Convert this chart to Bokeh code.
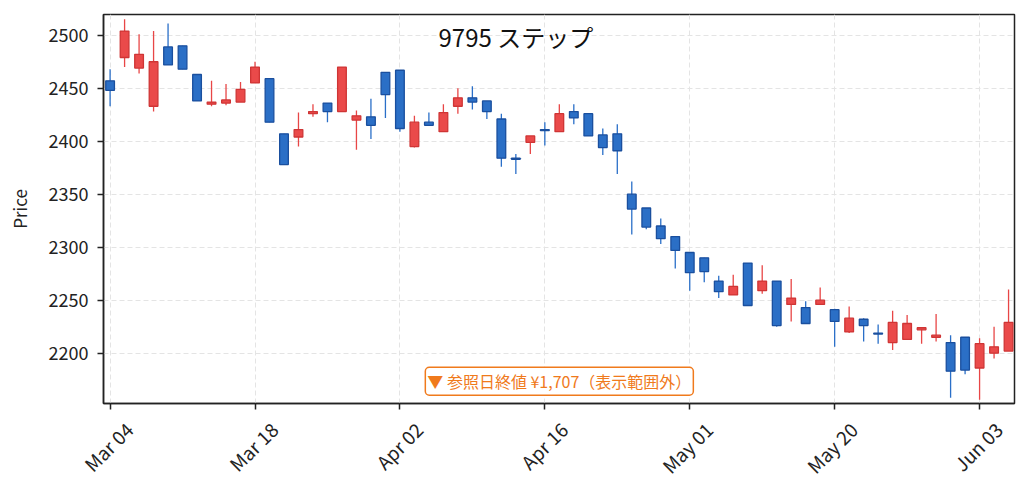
import math
from bokeh.plotting import figure
from bokeh.models import (ColumnDataSource, Range1d, FixedTicker, Label, LinearAxis,
                          CustomJSTickFormatter)
from bokeh.embed import file_html
from bokeh.resources import INLINE

# ---------------- data ----------------
dates = ["Mar 04", "Mar 05", "Mar 06", "Mar 07", "Mar 08", "Mar 11", "Mar 12", "Mar 13",
         "Mar 14", "Mar 15", "Mar 18", "Mar 19", "Mar 21", "Mar 22", "Mar 25", "Mar 26",
         "Mar 27", "Mar 28", "Mar 29", "Apr 01", "Apr 02", "Apr 03", "Apr 04", "Apr 05",
         "Apr 08", "Apr 09", "Apr 10", "Apr 11", "Apr 12", "Apr 15", "Apr 16", "Apr 17",
         "Apr 18", "Apr 19", "Apr 22", "Apr 23", "Apr 24", "Apr 25", "Apr 26", "Apr 30",
         "May 01", "May 02", "May 07", "May 08", "May 09", "May 10", "May 13", "May 14",
         "May 15", "May 16", "May 20", "May 21", "May 22", "May 23", "May 24", "May 27",
         "May 28", "May 29", "May 30", "May 31", "Jun 03", "Jun 04", "Jun 05"]

opens = [2457, 2479, 2469, 2433, 2489, 2490, 2463, 2435, 2436, 2437,
         2455, 2459, 2407, 2404, 2426, 2436, 2428, 2420, 2423, 2465,
         2467, 2395, 2418, 2409, 2433, 2441, 2438, 2421, 2384, 2399,
         2411, 2409, 2428, 2426, 2406, 2407, 2350, 2337, 2320, 2310,
         2295, 2290, 2268, 2255, 2285, 2259, 2268, 2246, 2243, 2246,
         2241, 2220, 2232, 2219, 2210, 2213, 2222, 2215, 2210, 2215,
         2186, 2200, 2202]
highs = [2468, 2515, 2501, 2504, 2511, 2490, 2463, 2457, 2454, 2456,
         2475, 2459, 2407, 2427, 2435, 2436, 2470, 2429, 2440, 2465,
         2467, 2424, 2427, 2435, 2450, 2452, 2438, 2426, 2388, 2405,
         2418, 2435, 2435, 2426, 2412, 2416, 2362, 2337, 2327, 2310,
         2295, 2290, 2273, 2274, 2285, 2283, 2268, 2270, 2249, 2262,
         2242, 2244, 2233, 2227, 2240, 2236, 2224, 2237, 2217, 2215,
         2214, 2225, 2260]
lows = [2433, 2470, 2464, 2428, 2472, 2468, 2438, 2433, 2434, 2437,
        2455, 2418, 2378, 2395, 2423, 2418, 2428, 2392, 2402, 2422,
        2409, 2394, 2415, 2409, 2426, 2430, 2421, 2376, 2369, 2388,
        2396, 2409, 2416, 2405, 2387, 2369, 2312, 2317, 2303, 2280,
        2259, 2267, 2252, 2255, 2245, 2256, 2225, 2230, 2228, 2246,
        2206, 2219, 2211, 2209, 2203, 2213, 2209, 2211, 2158, 2180,
        2156, 2195, 2202]
closes = [2448, 2504, 2482, 2475, 2472, 2468, 2438, 2437, 2439, 2449,
          2470, 2418, 2378, 2411, 2428, 2428, 2470, 2424, 2415, 2444,
          2412, 2418, 2415, 2427, 2441, 2437, 2428, 2384, 2383, 2405,
          2410, 2426, 2422, 2405, 2394, 2391, 2336, 2319, 2308, 2297,
          2276, 2277, 2258, 2263, 2245, 2268, 2226, 2252, 2228, 2250,
          2230, 2233, 2226, 2218, 2229, 2228, 2224, 2217, 2183, 2184,
          2209, 2206, 2229]

y_ticks = [2200, 2250, 2300, 2350, 2400, 2450, 2500]
title_text = "9795 ステップ"
note_text = "▼ 参照日終値 ¥1,707（表示範囲外）"

# ---------------- styles ----------------
UP_FILL, UP_LINE, UP_WICK = "#ea4a4a", "#cf3535", "#e84646"
DN_FILL, DN_LINE, DN_WICK = "#2b6fc6", "#1a4f9e", "#2a6fc8"
FONT = "Noto Sans CJK JP"
INK = "#222222"

W, H = 1021, 490
FL, FR, FT, FB = 103, 7, 14, 87
Y0, Y1 = 2152.5, 2519.6

xs = list(range(len(dates)))
up = [c >= o for o, c in zip(opens, closes)]
src = ColumnDataSource(dict(
    x=xs,
    top=[max(o, c) for o, c in zip(opens, closes)],
    bottom=[min(o, c) for o, c in zip(opens, closes)],
    high=highs,
    low=lows,
    fill=[UP_FILL if u else DN_FILL for u in up],
    line=[UP_LINE if u else DN_LINE for u in up],
    wick=[UP_WICK if u else DN_WICK for u in up],
))

p = figure(width=W, height=H, output_backend="svg", toolbar_location=None,
           x_range=Range1d(-0.455, len(dates) - 0.59),
           y_range=Range1d(Y0, Y1),
           min_border_left=FL, min_border_right=FR, min_border_top=FT, min_border_bottom=FB)

p.background_fill_color = "white"
p.border_fill_color = "white"
p.outline_line_color = INK
p.outline_line_width = 1.5

p.segment(x0="x", y0="low", x1="x", y1="high", source=src, line_color="wick", line_width=1.3)
p.vbar(x="x", width=0.6, top="top", bottom="bottom", source=src,
       fill_color="fill", line_color="line", line_width=1.3)

# axes: main x axis carries the tick marks only
tick_idx = xs[::10]
p.xaxis.ticker = FixedTicker(ticks=tick_idx)
p.xaxis.major_label_text_color = None
p.xaxis.major_label_text_font_size = "1px"
p.xaxis.major_label_standoff = 0
p.yaxis.ticker = FixedTicker(ticks=y_ticks)
p.yaxis.axis_label = "Price"

for ax in (p.xaxis[0], p.yaxis[0]):
    ax.axis_line_color = INK
    ax.axis_line_width = 1.5
    ax.major_tick_line_color = INK
    ax.major_tick_line_width = 1.5
    ax.major_tick_out = 6
    ax.major_tick_in = 0
    ax.minor_tick_line_color = None
    ax.major_label_text_font = FONT
    ax.axis_label_text_font = FONT
    ax.axis_label_text_font_size = "17px"
    ax.axis_label_text_font_style = "normal"
    ax.axis_label_text_color = INK
p.yaxis.major_label_text_font_size = "18px"
p.yaxis.major_label_text_color = INK
p.yaxis.major_label_standoff = 9
p.yaxis.axis_label_standoff = 14

# second, line-less axis: rotated date labels centred under each tick
SHIFT = 1.3
label_axis = LinearAxis(
    ticker=FixedTicker(ticks=[i + SHIFT for i in tick_idx]),
    formatter=CustomJSTickFormatter(args=dict(labels=dates, shift=SHIFT),
                                    code="return labels[Math.round(tick - shift)];"),
    major_label_orientation=math.pi / 4,
    major_label_text_font=FONT, major_label_text_font_size="19px",
    major_label_text_color=INK, major_label_standoff=16,
    axis_line_color=None, major_tick_line_color=None, minor_tick_line_color=None,
    major_tick_out=0, major_tick_in=0)
p.add_layout(label_axis, "below")

for g in (p.xgrid[0], p.ygrid[0]):
    g.grid_line_color = "#e4e4e4"
    g.grid_line_dash = "5 3"
    g.grid_line_width = 1

p.add_layout(Label(x=28, y=2498.8, text=title_text, text_align="center", text_baseline="middle",
                   text_font=FONT, text_font_size="24px", text_color="#111111"))

p.add_layout(Label(x=31, y=2173.5, text=note_text, text_align="center", text_baseline="middle",
                   text_font=FONT, text_font_size="16px", text_color="#f07a1c",
                   background_fill_color="white", border_line_color="#f07a1c",
                   border_line_width=1.5, padding=2, border_radius=4))

open("out.html", "w").write(file_html(p, INLINE))
